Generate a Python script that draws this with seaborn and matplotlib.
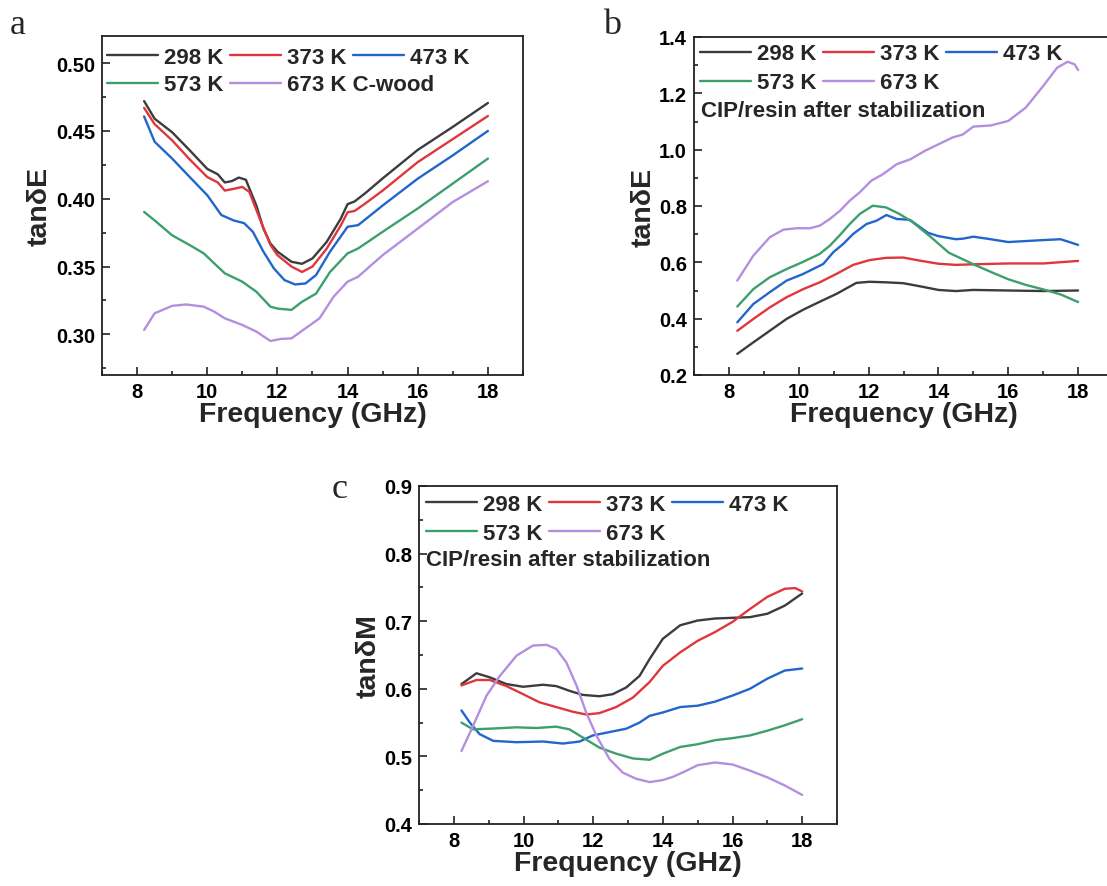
import numpy as np
import pandas as pd
import seaborn as sns
import matplotlib
matplotlib.use("Agg")
import matplotlib.pyplot as plt
from matplotlib.ticker import MultipleLocator

# ---------------- data ----------------
temps = ["298 K", "373 K", "473 K", "573 K", "673 K"]
colors = ["#3c3c3c", "#e0373c", "#2266cc", "#3d9f6e", "#b48fe0"]

# (a) tanδE of C-wood
a298_f = [8.2, 8.5, 9.0, 9.5, 10.0, 10.3, 10.5, 10.7, 10.9, 11.1, 11.4, 11.6, 11.8, 12.0, 12.4, 12.7, 13.0, 13.4, 13.8, 14.0, 14.2, 14.5, 15.0, 16.0, 17.0, 18.0]
a298_v = [0.472, 0.459, 0.449, 0.4357, 0.422, 0.418, 0.412, 0.413, 0.4156, 0.414, 0.395, 0.378, 0.367, 0.361, 0.3535, 0.352, 0.356, 0.368, 0.385, 0.396, 0.398, 0.404, 0.415, 0.436, 0.453, 0.4706]
a373_f = [8.2, 8.5, 9.0, 9.5, 10.0, 10.3, 10.5, 10.7, 11.0, 11.2, 11.5, 11.8, 12.0, 12.4, 12.7, 13.0, 13.4, 13.8, 14.0, 14.2, 14.5, 15.0, 16.0, 17.0, 18.0]
a373_v = [0.467, 0.455, 0.443, 0.429, 0.416, 0.412, 0.406, 0.407, 0.4087, 0.405, 0.385, 0.366, 0.3584, 0.350, 0.346, 0.350, 0.363, 0.380, 0.390, 0.391, 0.3964, 0.406, 0.427, 0.444, 0.461]
a473_f = [8.2, 8.5, 9.0, 9.5, 10.0, 10.4, 10.75, 11.05, 11.3, 11.6, 11.9, 12.2, 12.5, 12.8, 13.1, 13.5, 14.0, 14.3, 15.0, 16.0, 17.0, 18.0]
a473_v = [0.4607, 0.442, 0.4296, 0.416, 0.4026, 0.388, 0.384, 0.382, 0.3756, 0.361, 0.3486, 0.340, 0.3368, 0.3375, 0.3437, 0.361, 0.3793, 0.3805, 0.395, 0.4148, 0.432, 0.450]
a573_f = [8.2, 8.5, 9.0, 9.5, 9.9, 10.2, 10.5, 11.0, 11.4, 11.8, 12.0, 12.4, 12.7, 13.1, 13.5, 14.0, 14.3, 15.0, 16.0, 17.0, 18.0]
a573_v = [0.3903, 0.384, 0.373, 0.3658, 0.3597, 0.3523, 0.345, 0.3388, 0.3314, 0.3204, 0.319, 0.318, 0.324, 0.330, 0.346, 0.3597, 0.3633, 0.3756, 0.3928, 0.4112, 0.4296]
a673_f = [8.2, 8.5, 9.0, 9.4, 9.9, 10.2, 10.5, 11.0, 11.4, 11.8, 12.1, 12.4, 12.8, 13.2, 13.6, 14.0, 14.3, 15.0, 16.0, 17.0, 18.0]
a673_v = [0.3032, 0.3155, 0.321, 0.322, 0.3204, 0.3167, 0.3118, 0.3069, 0.302, 0.2951, 0.2966, 0.297, 0.3044, 0.3118, 0.3277, 0.3388, 0.3425, 0.3584, 0.378, 0.3976, 0.4129]

# (b) tanδE of CIP/resin after stabilization
b298_f = [8.24, 8.7, 9.17, 9.65, 10.13, 10.6, 11.08, 11.65, 12.03, 12.51, 12.99, 13.47, 14.0, 14.5, 15.0, 16.0, 17.0, 18.0]
b298_v = [0.275, 0.316, 0.357, 0.399, 0.432, 0.460, 0.488, 0.527, 0.531, 0.529, 0.526, 0.515, 0.502, 0.498, 0.502, 0.500, 0.498, 0.500]
b373_f = [8.24, 8.7, 9.17, 9.65, 10.13, 10.6, 11.08, 11.56, 12.03, 12.51, 12.99, 13.47, 14.0, 14.5, 15.0, 16.0, 17.0, 18.0]
b373_v = [0.357, 0.399, 0.440, 0.476, 0.505, 0.529, 0.559, 0.591, 0.608, 0.616, 0.617, 0.606, 0.595, 0.591, 0.593, 0.596, 0.596, 0.605]
b473_f = [8.24, 8.7, 9.17, 9.65, 10.13, 10.7, 10.99, 11.27, 11.56, 11.94, 12.23, 12.51, 12.8, 13.18, 13.7, 14.0, 14.5, 14.7, 15.0, 15.5, 16.0, 17.0, 17.5, 18.0]
b473_v = [0.387, 0.452, 0.494, 0.535, 0.559, 0.594, 0.636, 0.665, 0.701, 0.736, 0.748, 0.768, 0.754, 0.751, 0.705, 0.693, 0.682, 0.684, 0.691, 0.682, 0.672, 0.679, 0.682, 0.662]
b573_f = [8.24, 8.7, 9.17, 9.65, 10.13, 10.6, 10.89, 11.18, 11.46, 11.75, 12.12, 12.5, 12.88, 13.27, 13.8, 14.3, 14.8, 15.0, 15.5, 16.0, 16.5, 17.0, 17.5, 18.0]
b573_v = [0.443, 0.505, 0.547, 0.576, 0.602, 0.630, 0.659, 0.697, 0.736, 0.772, 0.801, 0.795, 0.772, 0.742, 0.688, 0.634, 0.605, 0.593, 0.566, 0.540, 0.520, 0.504, 0.486, 0.459]
b673_f = [8.24, 8.7, 9.17, 9.56, 9.94, 10.32, 10.6, 10.89, 11.18, 11.46, 11.75, 12.08, 12.4, 12.8, 13.2, 13.6, 14.0, 14.4, 14.7, 15.0, 15.5, 16.0, 16.5, 17.0, 17.4, 17.7, 17.9, 18.0]
b673_v = [0.535, 0.624, 0.689, 0.716, 0.721, 0.721, 0.730, 0.754, 0.783, 0.819, 0.849, 0.890, 0.912, 0.948, 0.966, 0.995, 1.019, 1.043, 1.054, 1.082, 1.086, 1.102, 1.149, 1.226, 1.291, 1.312, 1.303, 1.283]

# (c) tanδM of CIP/resin after stabilization
c298_f = [8.22, 8.65, 9.03, 9.51, 9.99, 10.56, 10.94, 11.32, 11.7, 12.18, 12.56, 12.95, 13.33, 13.62, 14.0, 14.5, 15.0, 15.5, 16.0, 16.5, 17.0, 17.5, 18.0]
c298_v = [0.607, 0.623, 0.617, 0.607, 0.603, 0.606, 0.604, 0.597, 0.591, 0.589, 0.592, 0.602, 0.619, 0.644, 0.674, 0.694, 0.701, 0.704, 0.705, 0.706, 0.711, 0.723, 0.741]
c373_f = [8.22, 8.65, 9.03, 9.51, 9.99, 10.46, 10.94, 11.42, 11.8, 12.18, 12.66, 13.14, 13.62, 14.0, 14.5, 15.0, 15.5, 16.0, 16.5, 17.0, 17.5, 17.8, 18.0]
c373_v = [0.605, 0.613, 0.613, 0.604, 0.592, 0.580, 0.573, 0.566, 0.562, 0.564, 0.573, 0.587, 0.610, 0.634, 0.654, 0.671, 0.684, 0.699, 0.718, 0.736, 0.748, 0.749, 0.744]
c473_f = [8.22, 8.46, 8.74, 9.13, 9.8, 10.56, 11.13, 11.61, 11.99, 12.47, 12.95, 13.33, 13.62, 14.0, 14.5, 15.0, 15.5, 16.0, 16.5, 17.0, 17.5, 18.0]
c473_v = [0.568, 0.550, 0.533, 0.523, 0.521, 0.522, 0.519, 0.522, 0.531, 0.536, 0.541, 0.550, 0.560, 0.565, 0.573, 0.575, 0.581, 0.590, 0.600, 0.615, 0.627, 0.630]
c573_f = [8.22, 8.55, 9.03, 9.8, 10.37, 10.94, 11.32, 11.7, 12.18, 12.66, 13.14, 13.62, 14.0, 14.5, 15.0, 15.5, 16.0, 16.5, 17.0, 17.5, 18.0]
c573_v = [0.550, 0.540, 0.541, 0.543, 0.542, 0.544, 0.540, 0.528, 0.513, 0.504, 0.497, 0.495, 0.504, 0.514, 0.518, 0.524, 0.527, 0.531, 0.538, 0.546, 0.555]
c673_f = [8.22, 8.55, 8.94, 9.32, 9.8, 10.27, 10.66, 10.94, 11.23, 11.52, 11.8, 12.09, 12.47, 12.85, 13.23, 13.62, 14.0, 14.3, 14.6, 15.0, 15.5, 16.0, 16.5, 17.0, 17.5, 18.0]
c673_v = [0.508, 0.545, 0.590, 0.619, 0.649, 0.664, 0.665, 0.659, 0.639, 0.605, 0.565, 0.531, 0.496, 0.476, 0.467, 0.462, 0.465, 0.470, 0.477, 0.487, 0.491, 0.488, 0.479, 0.469, 0.457, 0.443]

panel_a = [(a298_f, a298_v), (a373_f, a373_v), (a473_f, a473_v), (a573_f, a573_v), (a673_f, a673_v)]
panel_b = [(b298_f, b298_v), (b373_f, b373_v), (b473_f, b473_v), (b573_f, b573_v), (b673_f, b673_v)]
panel_c = [(c298_f, c298_v), (c373_f, c373_v), (c473_f, c473_v), (c573_f, c573_v), (c673_f, c673_v)]

# ---------------- style ----------------
sns.set_theme(style="ticks")
plt.rcParams["font.family"] = ["Liberation Sans", "DejaVu Sans"]
plt.rcParams["font.weight"] = "bold"
plt.rcParams["axes.labelweight"] = "bold"
plt.rcParams["axes.linewidth"] = 1.3
plt.rcParams["axes.edgecolor"] = "#222222"
plt.rcParams["lines.solid_joinstyle"] = "round"

W, H = 1107, 887
fig = plt.figure(figsize=(W / 100, H / 100), dpi=100)


def px_axes(left, top, right, bottom):
    return fig.add_axes([left / W, 1 - bottom / H, (right - left) / W, (bottom - top) / H])


LEG_KW = dict(loc="center left", frameon=False, prop={"weight": "bold", "size": 16},
              handlelength=2.3, handletextpad=0.28, columnspacing=0.28,
              borderaxespad=0, borderpad=0)


def draw_panel(ax, series, labels, ylim, ymaj, ymin, ylabel, leg_x, leg_y, note=None):
    for (f, v), lab, col in zip(series, labels, colors):
        df = pd.DataFrame({"Frequency": f, "value": v})
        sns.lineplot(data=df, x="Frequency", y="value", ax=ax, color=col,
                     linewidth=1.7, label=lab, sort=False, estimator=None,
                     legend=False)
    ax.set_xlim(7, 19)
    ax.set_ylim(*ylim)
    ax.xaxis.set_major_locator(MultipleLocator(2))
    ax.xaxis.set_minor_locator(MultipleLocator(1))
    ax.yaxis.set_major_locator(MultipleLocator(ymaj))
    ax.yaxis.set_minor_locator(MultipleLocator(ymin))
    ax.tick_params(which="both", direction="in", top=False, right=False,
                   width=1.2, colors="#222222")
    ax.tick_params(which="major", length=6, labelsize=14.5, pad=5)
    ax.tick_params(which="minor", length=3)
    for lbl in ax.get_xticklabels() + ax.get_yticklabels():
        lbl.set_fontweight("bold")
        lbl.set_color("black")
    ax.set_xlabel("Frequency (GHz)", fontsize=20.5, fontweight="bold", labelpad=0)
    ax.set_ylabel(ylabel, fontsize=20.5, fontweight="bold", labelpad=2)
    for s in ax.spines.values():
        s.set_visible(True)

    lines = ax.get_lines()
    row1 = ax.legend(lines[:3], labels[:3], ncol=3,
                     bbox_to_anchor=(leg_x, leg_y[0]), **LEG_KW)
    ax.add_artist(row1)
    ax.legend(lines[3:], labels[3:], ncol=2,
              bbox_to_anchor=(leg_x, leg_y[1]), **LEG_KW)
    if note:
        ax.text(0.017, 0.782, note, transform=ax.transAxes, fontsize=16,
                fontweight="bold", va="center", ha="left")


ax_a = px_axes(102, 37, 523, 376)
draw_panel(ax_a, panel_a, temps[:4] + ["673 K C-wood"], (0.27, 0.52), 0.05, 0.025,
           "tanδE", 0.012, (0.938, 0.856))

ax_b = px_axes(694, 38, 1113, 376)
draw_panel(ax_b, panel_b, temps, (0.2, 1.4), 0.2, 0.1, "tanδE", 0.014, (0.950, 0.864),
           note="CIP/resin after stabilization")

ax_c = px_axes(419, 487, 837, 825)
draw_panel(ax_c, panel_c, temps, (0.4, 0.9), 0.1, 0.05, "tanδM", 0.017, (0.945, 0.860),
           note="CIP/resin after stabilization")

for ch, x, y in [("a", 18, 25), ("b", 612, 25), ("c", 340, 490)]:
    fig.text(x / W, 1 - y / H, ch, fontsize=26, family="Liberation Serif",
             fontweight="normal", ha="center", va="center")

fig.savefig("out.png", dpi=100)
